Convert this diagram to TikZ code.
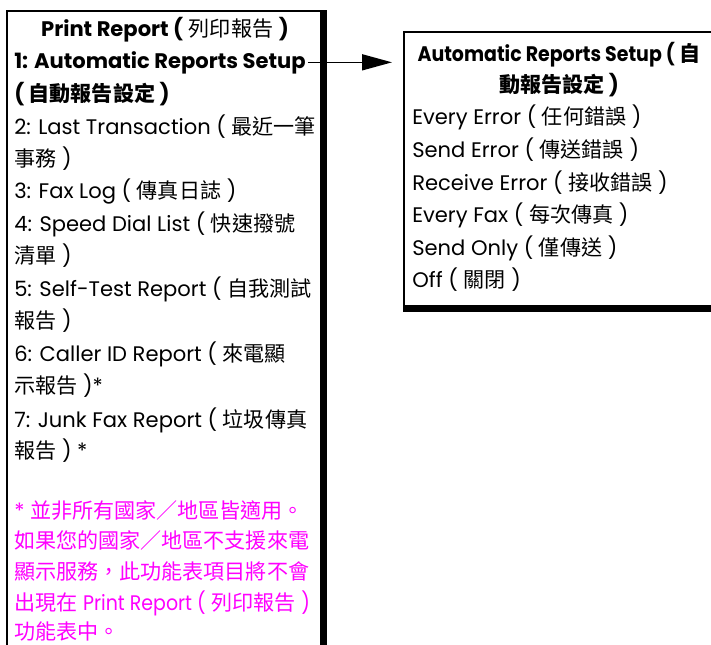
\documentclass[tikz,border=0pt]{standalone}
\usepackage{fontspec}
\setmainfont{Poppins}
\newfontfamily\cjk{Noto Sans CJK TC}
\newfontfamily\narrowfont{Poppins}[FakeStretch=0.9]
\usetikzlibrary{arrows.meta}
\definecolor{notemag}{RGB}{255,0,255}
\newcommand\zh[1]{{\cjk #1}}
\newcommand\nw[1]{{\narrowfont #1}}
\tikzset{
  txt/.style={inner sep=0pt, anchor=base west, font=\fontsize{15.8pt}{18pt}\selectfont},
  ctxt/.style={txt, anchor=base},
  note/.style={txt, text=notemag},
  thin/.style={line width=0.8pt},
}
\begin{document}
\begin{tikzpicture}[x=0.75pt, y=-0.75pt]
\useasboundingbox (0,0) rectangle (711,645);
% boxes (as empty named nodes)
\node[inner sep=0pt, minimum width=319*0.75pt, minimum height=660*0.75pt, anchor=north west] (lbox) at (7,11) {};
\node[inner sep=0pt, minimum width=320*0.75pt, minimum height=279*0.75pt, anchor=north west] (rbox) at (404,32) {};
\draw[thin] (lbox.south west) -- (lbox.north west) -- ([xshift=-4pt]lbox.north east);
\fill ([xshift=-5pt,yshift=0.4pt]lbox.north east) rectangle (lbox.south east);
\draw[thin] (rbox.south west) -- (rbox.north west) -- (rbox.north east);
\fill ([xshift=-0.4pt]rbox.south west) rectangle ([yshift=5pt]rbox.south east);
% left text
\node[ctxt] (l1) at (165,37) {\textbf{Print Report (} \zh{列印報告} \textbf{)}};
\node[txt] (l2) at (14,69) {\textbf{1: Automatic Reports Setup}};
\node[txt] (l3) at (14,102) {\textbf{( \zh{自動報告設定} )}};
\node[txt] (l4) at (14,135) {2: Last Transaction ( \zh{最近一筆}};
\node[txt] (l5) at (14,167) {\zh{事務} )};
\node[txt] (l6) at (14,199) {3: Fax Log ( \zh{傳真日誌} )};
\node[txt] (l7) at (14,232) {4: Speed Dial List ( \zh{快速撥號}};
\node[txt] (l8) at (14,264) {\zh{清單} )};
\node[txt] (l9) at (14,297) {5: Self-Test Report ( \zh{自我測試}};
\node[txt] (l10) at (14,329) {\zh{報告} )};
\node[txt] (l11) at (14,362) {6: Caller ID Report ( \zh{來電顯}};
\node[txt] (l12) at (14,394) {\zh{示報告} )*};
\node[txt] (l13) at (14,427) {7: Junk Fax Report ( \zh{垃圾傳真}};
\node[txt] (l14) at (14,459) {\zh{報告} ) *};
\node[note] (m1) at (14,518) {* \zh{並非所有國家／地區皆適用。}};
\node[note] (m2) at (14,548) {\zh{如果您的國家／地區不支援來電}};
\node[note] (m3) at (14,579) {\zh{顯示服務，此功能表項目將不會}};
\node[note] (m4) at (14,610) {\zh{出現在} \nw{Print Report (} \zh{列印報告} \nw{)}};
\node[note] (m5) at (14,639) {\zh{功能表中。}};
% right text
\node[ctxt] (r1) at (559,62) {\bfseries\nw{Automatic Reports Setup (} \zh{自}};
\node[ctxt] (r2) at (559,93) {\textbf{\zh{動報告設定} )}};
\node[txt] (r3) at (412,125) {Every Error ( \zh{任何錯誤} )};
\node[txt] (r4) at (412,158) {Send Error ( \zh{傳送錯誤} )};
\node[txt] (r5) at (412,191) {Receive Error ( \zh{接收錯誤} )};
\node[txt] (r6) at (412,223) {Every Fax ( \zh{每次傳真} )};
\node[txt] (r7) at (412,256) {Send Only ( \zh{僅傳送} )};
\node[txt] (r8) at (412,288) {Off ( \zh{關閉} )};
% arrow
\coordinate (a0) at ([xshift=1.5pt,yshift=5pt]l2.base east);
\draw[line width=1.2pt, -{Triangle[length=22.5pt,width=12pt]}, shorten >=9pt] (a0) -- (a0 -| rbox.west);
\end{tikzpicture}
\end{document}
